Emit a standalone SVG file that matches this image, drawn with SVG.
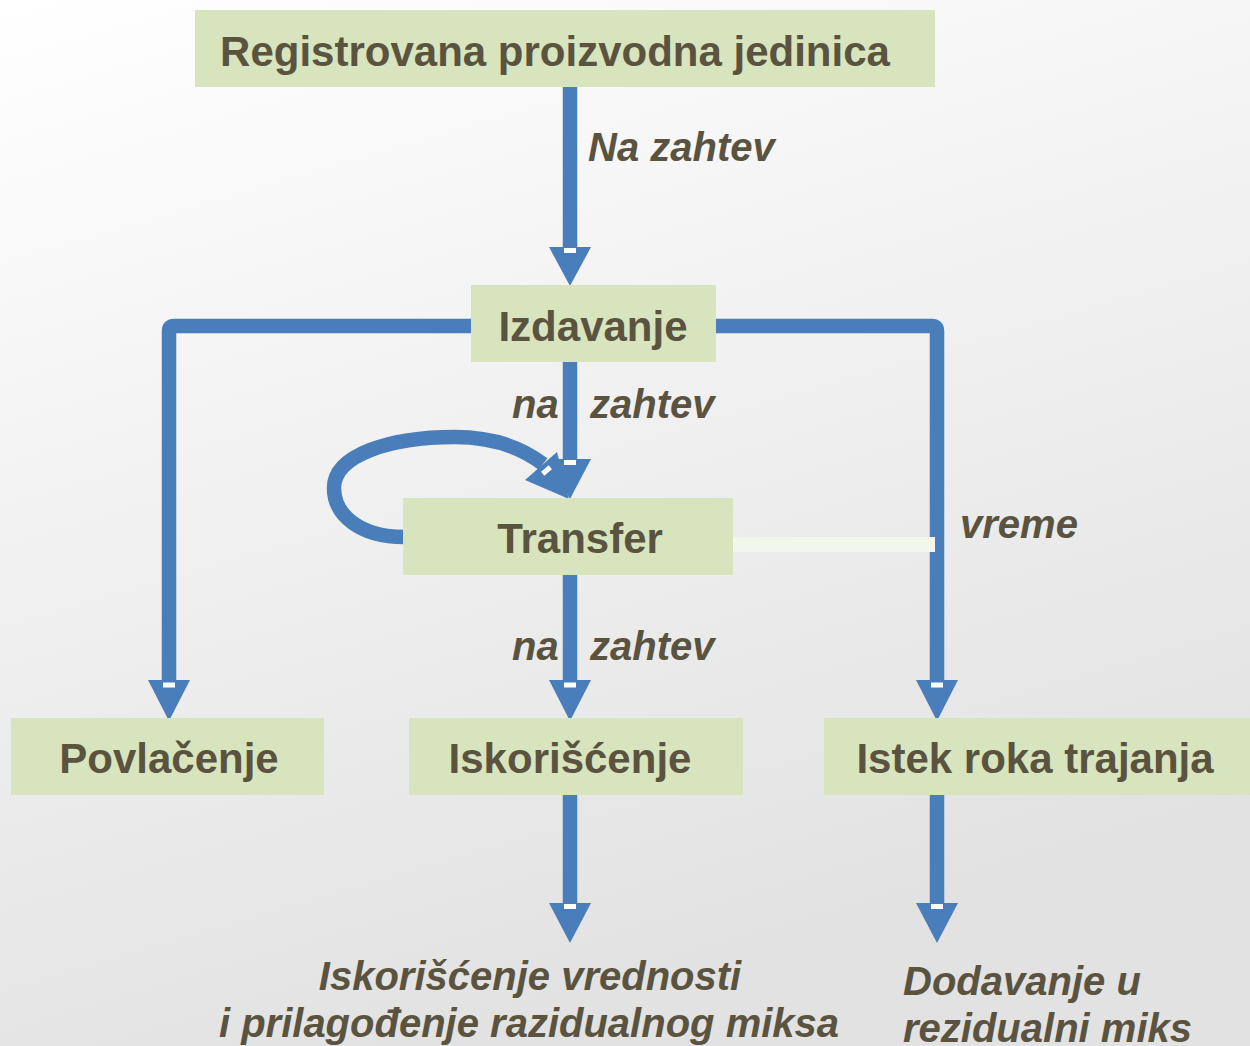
<svg xmlns="http://www.w3.org/2000/svg" width="1250" height="1046" viewBox="0 0 1250 1046">
  <defs>
    <linearGradient id="bg" x1="0" y1="0" x2="0.35" y2="1">
      <stop offset="0" stop-color="#ffffff"/>
      <stop offset="1" stop-color="#e2e2e2"/>
    </linearGradient>
    <style>
      .box { fill: #d7e4bd; }
      .nt { font-family: "Liberation Sans", Arial, sans-serif; font-weight: bold; font-size: 42px; fill: #5a5340; text-anchor: middle; }
      .lb { font-family: "Liberation Sans", Arial, sans-serif; font-weight: bold; font-style: italic; font-size: 40px; fill: #5a5340; }
      .ln { fill: none; stroke: #4a7ebb; stroke-width: 14.5; }
      .hd { fill: #4a7ebb; }
      .nick { fill: #ffffff; }
    </style>
  </defs>
  <rect x="0" y="0" width="1250" height="1046" fill="url(#bg)"/>

  <g id="connectors">
    <!-- Registrovana -> Izdavanje -->
    <line class="ln" x1="570" y1="87" x2="570" y2="250"/>
    <polygon class="hd" points="549,247 591,247 570,286"/>
    <rect class="nick" x="564" y="248" width="12" height="5"/>

    <!-- Izdavanje -> Povlacenje -->
    <path class="ln" d="M471,326 H174 Q169,326 169,331 V683" stroke-linejoin="round"/>
    <polygon class="hd" points="148,680 190,680 169,721"/>
    <rect class="nick" x="163" y="682.5" width="12" height="5"/>

    <!-- Izdavanje -> Istek -->
    <path class="ln" d="M716,326 H932 Q937,326 937,331 V683"/>
    <polygon class="hd" points="916,680 958,680 937,721"/>
    <rect class="nick" x="931" y="682.5" width="12" height="5"/>

    <!-- Izdavanje -> Transfer -->
    <line class="ln" x1="570" y1="362" x2="570" y2="462"/>
    <polygon class="hd" points="549,459 591,459 570,499"/>
    <rect class="nick" x="564" y="460" width="12" height="5"/>

    <!-- Transfer loop -->
    <path class="ln" d="M404,537 C360,537 334,515 334,488 C334,455 390,437 455,437 C495,437 522,448 543,464"/>
    <polygon class="hd" points="525,480 557,452 569,499"/>
    <rect class="nick" x="-5" y="-2.5" width="10" height="5" transform="translate(546.5,470.5) rotate(-40)"/>

    <!-- Transfer -> Istek (vreme) -->
    <rect x="733" y="537" width="202" height="15" fill="#f3f6ea"/>

    <!-- Transfer -> Iskoriscenje -->
    <line class="ln" x1="570" y1="575" x2="570" y2="683"/>
    <polygon class="hd" points="549,680 591,680 570,721"/>
    <rect class="nick" x="564" y="682.5" width="12" height="5"/>

    <!-- Iskoriscenje -> bottom -->
    <line class="ln" x1="570" y1="795" x2="570" y2="906"/>
    <polygon class="hd" points="549,903 591,903 570,943"/>
    <rect class="nick" x="564" y="904" width="12" height="5"/>

    <!-- Istek -> bottom -->
    <line class="ln" x1="937" y1="795" x2="937" y2="906"/>
    <polygon class="hd" points="916,903 958,903 937,943"/>
    <rect class="nick" x="931" y="904" width="12" height="5"/>

    <!-- connector labels -->
    <text class="lb" x="588" y="161">Na zahtev</text>
    <text class="lb" y="418"><tspan x="512">na</tspan> <tspan x="590">zahtev</tspan></text>
    <text class="lb" y="660"><tspan x="512">na</tspan> <tspan x="590">zahtev</tspan></text>
    <text class="lb" x="960" y="538">vreme</text>
  </g>

  <g id="registrovana">
    <rect class="box" x="195" y="10" width="740" height="77"/>
    <text class="nt" x="555" y="66">Registrovana proizvodna jedinica</text>
  </g>
  <g id="izdavanje">
    <rect class="box" x="471" y="285" width="245" height="77"/>
    <text class="nt" x="593" y="341">Izdavanje</text>
  </g>
  <g id="transfer">
    <rect class="box" x="403" y="498" width="330" height="77"/>
    <text class="nt" x="580" y="553">Transfer</text>
  </g>
  <g id="povlacenje">
    <rect class="box" x="11" y="718" width="313" height="77"/>
    <text class="nt" x="169" y="773">Povlačenje</text>
  </g>
  <g id="iskoriscenje">
    <rect class="box" x="409" y="718" width="334" height="77"/>
    <text class="nt" x="570" y="773">Iskorišćenje</text>
  </g>
  <g id="istek">
    <rect class="box" x="824" y="718" width="426" height="77"/>
    <text class="nt" x="1035" y="773">Istek roka trajanja</text>
  </g>
  <g id="iskoriscenje-vrednosti">
    <text class="lb" text-anchor="middle" x="530" y="990">Iskorišćenje vrednosti</text>
    <text class="lb" text-anchor="middle" x="529" y="1037">i prilagođenje razidualnog miksa</text>
  </g>
  <g id="dodavanje">
    <text class="lb" x="903" y="995">Dodavanje u</text>
    <text class="lb" x="903" y="1042">rezidualni miks</text>
  </g>
</svg>
